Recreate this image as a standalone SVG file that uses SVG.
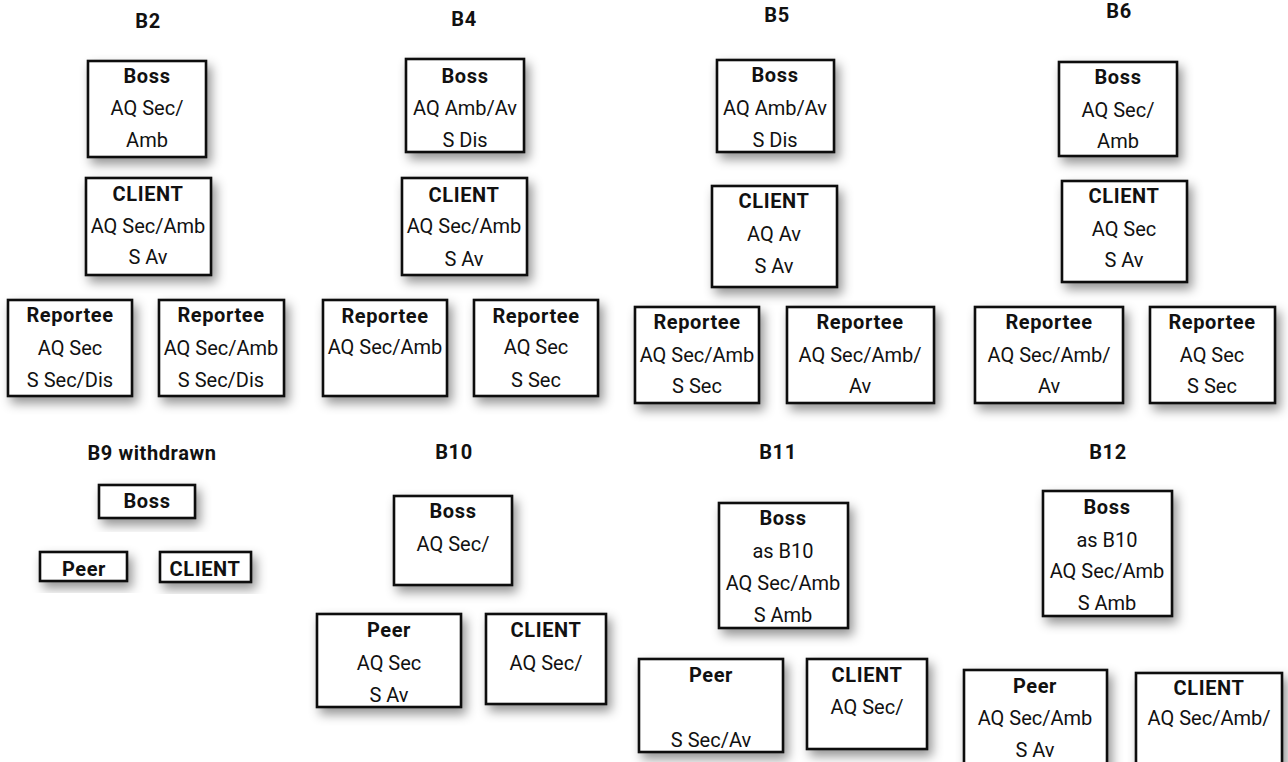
<svg xmlns="http://www.w3.org/2000/svg" width="1288" height="762" viewBox="0 0 1288 762">
  <defs>
    <filter id="shadow" x="-30%" y="-30%" width="170%" height="170%">
      <feDropShadow dx="4" dy="6" stdDeviation="5.5" flood-color="#000" flood-opacity="0.42"/>
    </filter>
  </defs>
  <style>
    .box { fill: #fff; stroke: #111; stroke-width: 2.6; filter: url(#shadow); }
    text { font-family: Roboto, "Liberation Sans", sans-serif; font-size: 20px; fill: #111; text-anchor: middle; }
    .b { font-weight: bold; letter-spacing: 0.6px; }
  </style>
  <rect width="1288" height="762" fill="#fff"/>

  <!-- group titles -->
  <g id="titles">
    <text class="b" x="148" y="28">B2</text>
    <text class="b" x="464" y="26">B4</text>
    <text class="b" x="777" y="22">B5</text>
    <text class="b" x="1119" y="18">B6</text>
    <text class="b" x="152" y="460">B9 withdrawn</text>
    <text class="b" x="454" y="459">B10</text>
    <text class="b" x="778" y="459">B11</text>
    <text class="b" x="1108" y="459">B12</text>
  </g>

  <!-- connectors (none drawn between the boxes) -->
  <g id="connectors"/>

  <!-- B2 -->
  <g id="b2-boss"><rect class="box" x="88" y="61" width="118" height="96"/>
    <text class="b" x="147" y="83">Boss</text><text x="147" y="115">AQ Sec/</text><text x="147" y="147">Amb</text></g>
  <g id="b2-client"><rect class="box" x="86" y="178" width="125" height="97"/>
    <text class="b" x="148" y="201">CLIENT</text><text x="148" y="233">AQ Sec/Amb</text><text x="148" y="264">S Av</text></g>
  <g id="b2-reportee1"><rect class="box" x="8" y="300" width="124" height="96"/>
    <text class="b" x="70" y="322">Reportee</text><text x="70" y="355">AQ Sec</text><text x="70" y="387">S Sec/Dis</text></g>
  <g id="b2-reportee2"><rect class="box" x="159" y="300" width="125" height="96"/>
    <text class="b" x="221" y="322">Reportee</text><text x="221" y="355">AQ Sec/Amb</text><text x="221" y="387">S Sec/Dis</text></g>

  <!-- B4 -->
  <g id="b4-boss"><rect class="box" x="406" y="59" width="118" height="93"/>
    <text class="b" x="465" y="83">Boss</text><text x="465" y="115">AQ Amb/Av</text><text x="465" y="147">S Dis</text></g>
  <g id="b4-client"><rect class="box" x="402" y="178" width="125" height="97"/>
    <text class="b" x="464" y="202">CLIENT</text><text x="464" y="233">AQ Sec/Amb</text><text x="464" y="266">S Av</text></g>
  <g id="b4-reportee1"><rect class="box" x="323" y="300" width="124" height="96"/>
    <text class="b" x="385" y="323">Reportee</text><text x="385" y="354">AQ Sec/Amb</text></g>
  <g id="b4-reportee2"><rect class="box" x="474" y="300" width="124" height="96"/>
    <text class="b" x="536" y="323">Reportee</text><text x="536" y="354">AQ Sec</text><text x="536" y="387">S Sec</text></g>

  <!-- B5 -->
  <g id="b5-boss"><rect class="box" x="717" y="60" width="117" height="92"/>
    <text class="b" x="775" y="82">Boss</text><text x="775" y="115">AQ Amb/Av</text><text x="775" y="147">S Dis</text></g>
  <g id="b5-client"><rect class="box" x="712" y="186" width="125" height="101"/>
    <text class="b" x="774" y="208">CLIENT</text><text x="774" y="241">AQ Av</text><text x="774" y="273">S Av</text></g>
  <g id="b5-reportee1"><rect class="box" x="635" y="307" width="124" height="96"/>
    <text class="b" x="697" y="329">Reportee</text><text x="697" y="362">AQ Sec/Amb</text><text x="697" y="393">S Sec</text></g>
  <g id="b5-reportee2"><rect class="box" x="787" y="307" width="147" height="96"/>
    <text class="b" x="860" y="329">Reportee</text><text x="860" y="362">AQ Sec/Amb/</text><text x="860" y="393">Av</text></g>

  <!-- B6 -->
  <g id="b6-boss"><rect class="box" x="1059" y="62" width="118" height="94"/>
    <text class="b" x="1118" y="84">Boss</text><text x="1118" y="117">AQ Sec/</text><text x="1118" y="148">Amb</text></g>
  <g id="b6-client"><rect class="box" x="1062" y="181" width="125" height="101"/>
    <text class="b" x="1124" y="203">CLIENT</text><text x="1124" y="236">AQ Sec</text><text x="1124" y="267">S Av</text></g>
  <g id="b6-reportee1"><rect class="box" x="975" y="307" width="148" height="96"/>
    <text class="b" x="1049" y="329">Reportee</text><text x="1049" y="362">AQ Sec/Amb/</text><text x="1049" y="393">Av</text></g>
  <g id="b6-reportee2"><rect class="box" x="1150" y="307" width="125" height="96"/>
    <text class="b" x="1212" y="329">Reportee</text><text x="1212" y="362">AQ Sec</text><text x="1212" y="393">S Sec</text></g>

  <!-- B9 withdrawn -->
  <g id="b9-boss"><rect class="box" x="99" y="485" width="96" height="33"/>
    <text class="b" x="147" y="508">Boss</text></g>
  <g id="b9-peer"><rect class="box" x="40" y="552" width="87" height="29"/>
    <text class="b" x="84" y="576">Peer</text></g>
  <g id="b9-client"><rect class="box" x="160" y="552" width="91" height="30"/>
    <text class="b" x="205" y="576">CLIENT</text></g>

  <!-- B10 -->
  <g id="b10-boss"><rect class="box" x="394" y="496" width="118" height="89"/>
    <text class="b" x="453" y="518">Boss</text><text x="453" y="551">AQ Sec/</text></g>
  <g id="b10-peer"><rect class="box" x="317" y="614" width="144" height="93"/>
    <text class="b" x="389" y="637">Peer</text><text x="389" y="670">AQ Sec</text><text x="389" y="702">S Av</text></g>
  <g id="b10-client"><rect class="box" x="486" y="614" width="120" height="90"/>
    <text class="b" x="546" y="637">CLIENT</text><text x="546" y="670">AQ Sec/</text></g>

  <!-- B11 -->
  <g id="b11-boss"><rect class="box" x="719" y="503" width="129" height="125"/>
    <text class="b" x="783" y="525">Boss</text><text x="783" y="558">as B10</text><text x="783" y="590">AQ Sec/Amb</text><text x="783" y="622">S Amb</text></g>
  <g id="b11-peer"><rect class="box" x="639" y="659" width="144" height="93"/>
    <text class="b" x="711" y="682">Peer</text><text x="711" y="747">S Sec/Av</text></g>
  <g id="b11-client"><rect class="box" x="807" y="659" width="120" height="90"/>
    <text class="b" x="867" y="682">CLIENT</text><text x="867" y="714">AQ Sec/</text></g>

  <!-- B12 -->
  <g id="b12-boss"><rect class="box" x="1043" y="491" width="129" height="125"/>
    <text class="b" x="1107" y="514">Boss</text><text x="1107" y="547">as B10</text><text x="1107" y="578">AQ Sec/Amb</text><text x="1107" y="610">S Amb</text></g>
  <g id="b12-peer"><rect class="box" x="964" y="670" width="143" height="110"/>
    <text class="b" x="1035" y="693">Peer</text><text x="1035" y="725">AQ Sec/Amb</text><text x="1035" y="757">S Av</text></g>
  <g id="b12-client"><rect class="box" x="1136" y="673" width="146" height="110"/>
    <text class="b" x="1209" y="695">CLIENT</text><text x="1209" y="725">AQ Sec/Amb/</text></g>
</svg>
